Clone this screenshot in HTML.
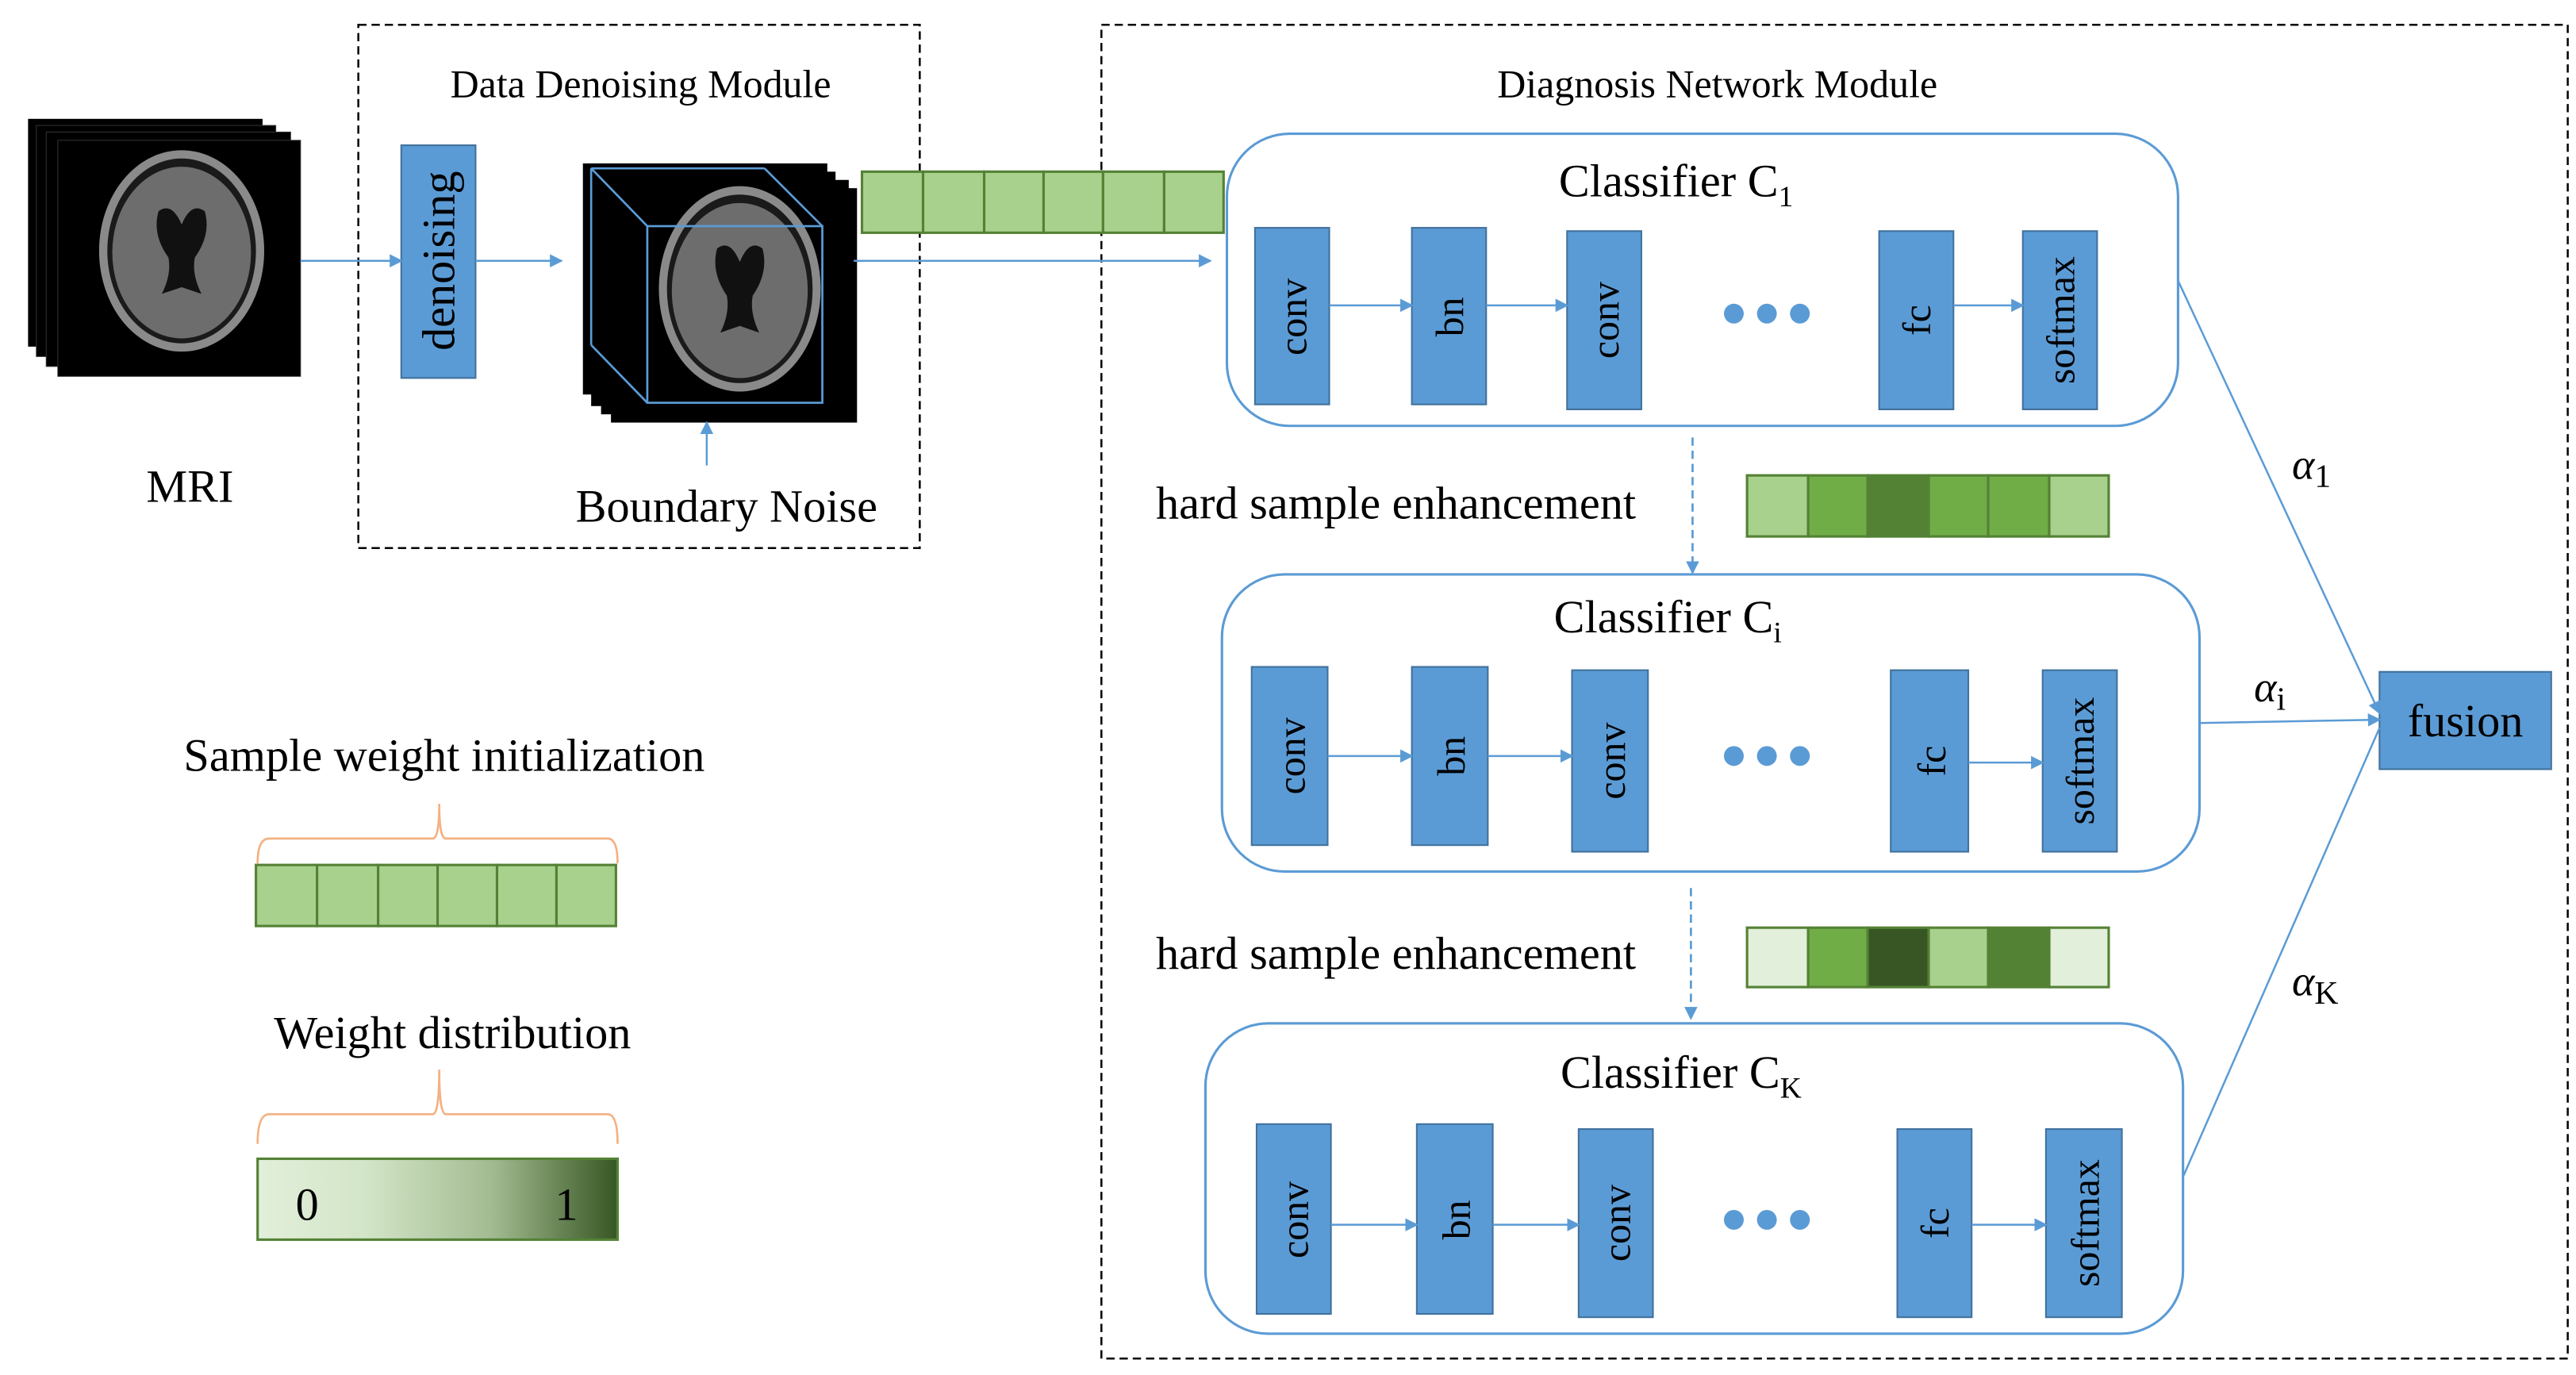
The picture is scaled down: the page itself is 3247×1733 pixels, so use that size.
<!DOCTYPE html>
<html><head><meta charset="utf-8"><style>
html,body{margin:0;padding:0;background:#fff;}
svg{display:block;font-family:"Liberation Serif","Times New Roman",serif;}
svg text{font-family:"Liberation Serif","Times New Roman",serif;fill:#000;}
</style></head><body>
<svg width="3247" height="1733" viewBox="0 0 1560 833" preserveAspectRatio="none" xmlns="http://www.w3.org/2000/svg" font-family="Liberation Serif, serif">
<defs>
<marker id="ar" markerWidth="8" markerHeight="8" refX="7" refY="4" orient="auto" markerUnits="userSpaceOnUse"><path d="M0,0 L8,4 L0,8 z" fill="#5b9bd5"/></marker>
<linearGradient id="gw" x1="0" x2="1" y1="0" y2="0"><stop offset="0" stop-color="#e2efda"/><stop offset="0.3" stop-color="#d3e5c8"/><stop offset="0.65" stop-color="#a3bb91"/><stop offset="1" stop-color="#375623"/></linearGradient>
<g id="brain">
<ellipse cx="0" cy="0" rx="50" ry="61" fill="#8a8a8a"/>
<ellipse cx="0" cy="0" rx="45" ry="56" fill="#1a1a1a"/>
<ellipse cx="0" cy="1" rx="42" ry="52" fill="#6d6d6d"/>
<path d="M-14,-24 Q-6,-30 0,-16 Q6,-30 14,-24 Q18,-10 8,4 Q6,14 12,26 Q0,22 0,22 Q0,22 -12,26 Q-6,14 -8,4 Q-18,-10 -14,-24 z" fill="#111"/>
</g>
</defs>

<rect x="217" y="15" width="340" height="317" fill="none" stroke="#000" stroke-width="1.2" stroke-dasharray="5,3"/>
<rect x="667" y="15" width="888" height="808" fill="none" stroke="#000" stroke-width="1.2" stroke-dasharray="5,3"/>
<text x="388" y="59" font-size="24" text-anchor="middle">Data Denoising Module</text>
<text x="1040" y="59" font-size="24" text-anchor="middle">Diagnosis Network Module</text>

<rect x="17" y="72" width="142" height="138" fill="#000"/>
<rect x="22" y="76" width="145" height="140" fill="#000" stroke="#333" stroke-width="0.5"/>
<rect x="28" y="80" width="148" height="142" fill="#000" stroke="#333" stroke-width="0.5"/>
<rect x="35" y="85" width="147" height="143" fill="#000" stroke="#333" stroke-width="0.5"/>
<use href="#brain" transform="translate(110,152)"/>
<text x="115" y="304" font-size="28" text-anchor="middle">MRI</text>

<rect x="243" y="88" width="45" height="141" fill="#5b9bd5" stroke="#41719c" stroke-width="1"/>
<text transform="translate(275,158) rotate(-90)" font-size="28" text-anchor="middle">denoising</text>
<line x1="182" y1="158" x2="243" y2="158" stroke="#5b9bd5" stroke-width="1.2" marker-end="url(#ar)"/>
<line x1="288" y1="158" x2="340" y2="158" stroke="#5b9bd5" stroke-width="1.2" marker-end="url(#ar)"/>

<rect x="353" y="99" width="148" height="140" fill="#000"/>
<rect x="358" y="104" width="148" height="142" fill="#000"/>
<rect x="364" y="109" width="150" height="142" fill="#000"/>
<rect x="370" y="114" width="149" height="142" fill="#000"/>
<use href="#brain" transform="translate(448,175) scale(0.98,1.02)"/>
<g fill="none" stroke="#5b9bd5" stroke-width="1.3">
<rect x="392" y="137" width="106" height="107"/>
<line x1="358" y1="102" x2="463" y2="102"/>
<line x1="358" y1="102" x2="358" y2="209"/>
<line x1="358" y1="102" x2="392" y2="137"/>
<line x1="463" y1="102" x2="498" y2="137"/>
<line x1="358" y1="209" x2="392" y2="244"/>
</g>
<line x1="428" y1="282" x2="428" y2="256" stroke="#5b9bd5" stroke-width="1.2" marker-end="url(#ar)"/>
<text x="440" y="316" font-size="28" text-anchor="middle">Boundary Noise</text>

<g stroke="#548235" stroke-width="1.5" fill="#a9d18e">
<rect x="522" y="104" width="37" height="37"/><rect x="559" y="104" width="37" height="37"/><rect x="596" y="104" width="36" height="37"/><rect x="632" y="104" width="36" height="37"/><rect x="668" y="104" width="37" height="37"/><rect x="705" y="104" width="36" height="37"/>
</g>
<line x1="517" y1="158" x2="733" y2="158" stroke="#5b9bd5" stroke-width="1.2" marker-end="url(#ar)"/>

<rect x="743" y="81" width="576" height="177" rx="38" fill="none" stroke="#5b9bd5" stroke-width="1.5"/>
<text x="1015" y="119" font-size="28" text-anchor="middle">Classifier C<tspan font-size="18" dy="6">1</tspan></text>
<g fill="#5b9bd5" stroke="#41719c" stroke-width="1">
<rect x="760" y="138" width="45" height="107"/><rect x="855" y="138" width="45" height="107"/><rect x="949" y="140" width="45" height="108"/><rect x="1138" y="140" width="45" height="108"/><rect x="1225" y="140" width="45" height="108"/>
</g>
<g font-size="24" text-anchor="middle">
<text transform="translate(791,192) rotate(-90)">conv</text>
<text transform="translate(886,192) rotate(-90)">bn</text>
<text transform="translate(980,194) rotate(-90)">conv</text>
<text transform="translate(1169,194) rotate(-90)">fc</text>
<text transform="translate(1256,194) rotate(-90)">softmax</text>
</g>
<g fill="#5b9bd5"><circle cx="1050" cy="190" r="6"/><circle cx="1070" cy="190" r="6"/><circle cx="1090" cy="190" r="6"/></g>
<g stroke="#5b9bd5" stroke-width="1.2" marker-end="url(#ar)">
<line x1="805" y1="185" x2="855" y2="185"/><line x1="900" y1="185" x2="949" y2="185"/><line x1="1183" y1="185" x2="1225" y2="185"/>
</g>

<text x="700" y="314" font-size="28">hard sample enhancement</text>
<line x1="1025" y1="265" x2="1025" y2="347" stroke="#5b9bd5" stroke-width="1.3" stroke-dasharray="5,3" marker-end="url(#ar)"/>
<g stroke="#548235" stroke-width="1.5">
<rect x="1058" y="288" width="37" height="37" fill="#a9d18e"/><rect x="1095" y="288" width="36" height="37" fill="#70ad47"/><rect x="1131" y="288" width="37" height="37" fill="#548235"/><rect x="1168" y="288" width="36" height="37" fill="#70ad47"/><rect x="1204" y="288" width="37" height="37" fill="#70ad47"/><rect x="1241" y="288" width="36" height="37" fill="#a9d18e"/>
</g>

<rect x="740" y="348" width="592" height="180" rx="38" fill="none" stroke="#5b9bd5" stroke-width="1.5"/>
<text x="1010" y="383" font-size="28" text-anchor="middle">Classifier C<tspan font-size="18" dy="6">i</tspan></text>
<g fill="#5b9bd5" stroke="#41719c" stroke-width="1">
<rect x="758" y="404" width="46" height="108"/><rect x="855" y="404" width="46" height="108"/><rect x="952" y="406" width="46" height="110"/><rect x="1145" y="406" width="47" height="110"/><rect x="1237" y="406" width="45" height="110"/>
</g>
<g font-size="24" text-anchor="middle">
<text transform="translate(790,458) rotate(-90)">conv</text>
<text transform="translate(887,458) rotate(-90)">bn</text>
<text transform="translate(984,461) rotate(-90)">conv</text>
<text transform="translate(1178,461) rotate(-90)">fc</text>
<text transform="translate(1268,461) rotate(-90)">softmax</text>
</g>
<g fill="#5b9bd5"><circle cx="1050" cy="458" r="6"/><circle cx="1070" cy="458" r="6"/><circle cx="1090" cy="458" r="6"/></g>
<g stroke="#5b9bd5" stroke-width="1.2" marker-end="url(#ar)">
<line x1="804" y1="458" x2="855" y2="458"/><line x1="901" y1="458" x2="952" y2="458"/><line x1="1192" y1="462" x2="1237" y2="462"/>
</g>

<text x="700" y="587" font-size="28">hard sample enhancement</text>
<line x1="1024" y1="538" x2="1024" y2="617" stroke="#5b9bd5" stroke-width="1.3" stroke-dasharray="5,3" marker-end="url(#ar)"/>
<g stroke="#548235" stroke-width="1.5">
<rect x="1058" y="562" width="37" height="36" fill="#e2efda"/><rect x="1095" y="562" width="36" height="36" fill="#70ad47"/><rect x="1131" y="562" width="37" height="36" fill="#375623"/><rect x="1168" y="562" width="36" height="36" fill="#a9d18e"/><rect x="1204" y="562" width="37" height="36" fill="#548235"/><rect x="1241" y="562" width="36" height="36" fill="#e2efda"/>
</g>

<rect x="730" y="620" width="592" height="188" rx="38" fill="none" stroke="#5b9bd5" stroke-width="1.5"/>
<text x="1018" y="659" font-size="28" text-anchor="middle">Classifier C<tspan font-size="18" dy="6">K</tspan></text>
<g fill="#5b9bd5" stroke="#41719c" stroke-width="1">
<rect x="761" y="681" width="45" height="115"/><rect x="858" y="681" width="46" height="115"/><rect x="956" y="684" width="45" height="114"/><rect x="1149" y="684" width="45" height="114"/><rect x="1239" y="684" width="46" height="114"/>
</g>
<g font-size="24" text-anchor="middle">
<text transform="translate(792,739) rotate(-90)">conv</text>
<text transform="translate(890,739) rotate(-90)">bn</text>
<text transform="translate(987,741) rotate(-90)">conv</text>
<text transform="translate(1180,741) rotate(-90)">fc</text>
<text transform="translate(1271,741) rotate(-90)">softmax</text>
</g>
<g fill="#5b9bd5"><circle cx="1050" cy="739" r="6"/><circle cx="1070" cy="739" r="6"/><circle cx="1090" cy="739" r="6"/></g>
<g stroke="#5b9bd5" stroke-width="1.2" marker-end="url(#ar)">
<line x1="806" y1="742" x2="858" y2="742"/><line x1="904" y1="742" x2="956" y2="742"/><line x1="1194" y1="742" x2="1239" y2="742"/>
</g>

<rect x="1441" y="407" width="104" height="59" fill="#5b9bd5" stroke="#41719c" stroke-width="1"/>
<text x="1493" y="446" font-size="28" text-anchor="middle">fusion</text>
<g stroke="#5b9bd5" stroke-width="1.2">
<line x1="1319" y1="170" x2="1441" y2="432" marker-end="url(#ar)"/>
<line x1="1332" y1="438" x2="1441" y2="436" marker-end="url(#ar)"/>
<line x1="1322" y1="713" x2="1441" y2="441"/>
</g>
<g font-size="26" font-style="italic">
<text x="1388" y="290">α<tspan font-style="normal" font-size="20" dy="5">1</tspan></text>
<text x="1365" y="425">α<tspan font-style="normal" font-size="20" dy="5">i</tspan></text>
<text x="1388" y="603">α<tspan font-style="normal" font-size="20" dy="5">K</tspan></text>
</g>

<text x="269" y="467" font-size="28" text-anchor="middle">Sample weight initialization</text>
<path d="M156,523 Q156,508 163,508 L262,508 Q266,508 266,487 Q266,508 270,508 L368,508 Q374,508 374,523" fill="none" stroke="#f4b183" stroke-width="1.3"/>
<g stroke="#548235" stroke-width="1.5" fill="#a9d18e">
<rect x="155" y="524" width="37" height="37"/><rect x="192" y="524" width="37" height="37"/><rect x="229" y="524" width="36" height="37"/><rect x="265" y="524" width="36" height="37"/><rect x="301" y="524" width="36" height="37"/><rect x="337" y="524" width="36" height="37"/>
</g>
<text x="274" y="635" font-size="28" text-anchor="middle">Weight distribution</text>
<path d="M156,693 Q156,675 163,675 L262,675 Q266,675 266,648 Q266,675 270,675 L368,675 Q374,675 374,693" fill="none" stroke="#f4b183" stroke-width="1.3"/>
<rect x="156" y="702" width="218" height="49" fill="url(#gw)" stroke="#548235" stroke-width="1.5"/>
<text x="186" y="739" font-size="28" text-anchor="middle">0</text>
<text x="343" y="739" font-size="28" text-anchor="middle">1</text>
</svg>
</body></html>
